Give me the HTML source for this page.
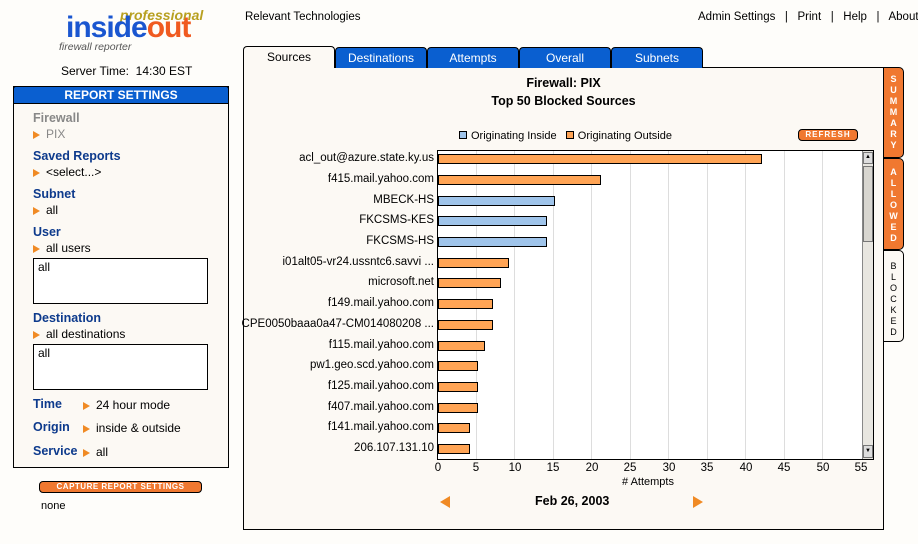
<!DOCTYPE html>
<html><head><meta charset="utf-8"><style>
*{margin:0;padding:0;box-sizing:border-box}
body{width:918px;height:544px;background:#fefdfa;font-family:"Liberation Sans",sans-serif;font-size:12px;color:#000;position:relative;overflow:hidden}
.a{position:absolute;white-space:nowrap}
.lbl{font-weight:bold;color:#0d3a8c;font-size:12.5px}
.tri{display:inline-block;width:0;height:0;border-top:4px solid transparent;border-bottom:4px solid transparent;border-left:7px solid #f08a24;margin-right:6px;vertical-align:-1px}
.tab{position:absolute;top:47px;height:21px;background:#0a5fd0;color:#fff;border:1px solid #000;border-bottom:none;border-radius:4px 4px 0 0;text-align:center;line-height:20px;font-size:12px}
.rt{position:absolute;left:883px;width:21px;background:#f07830;color:#fff;border:1px solid #000;border-radius:0 5px 5px 0;font-size:9px;text-align:center;line-height:11px;padding-top:6px;font-weight:bold}
.tick{position:absolute;top:462px;width:20px;margin-left:-10px;text-align:center;font-size:11.5px}
.grid{position:absolute;top:151px;width:1px;height:308px;background:#ddd}
.bar{position:absolute;left:438px;height:10px;border:1px solid #000}
.o{background:#ffa455}.b{background:#9fc4ea}
.rl{position:absolute;right:484px;font-size:11.5px;text-align:right;white-space:nowrap}
</style></head><body>
<div class="a" style="left:120px;top:7px;font-style:italic;font-weight:bold;color:#b8a020;font-size:14px">professional</div>
<div class="a" style="left:66px;top:11px;font-size:30px;font-weight:bold;letter-spacing:-1px;color:#1a56d0">inside<span style="color:#f05a20">out</span></div>
<div class="a" style="left:59px;top:41px;font-style:italic;color:#555;font-size:10.5px">firewall reporter</div>
<div class="a" style="left:61px;top:64px;font-size:12px">Server Time:&nbsp; 14:30 EST</div>
<div class="a" style="left:13px;top:86px;width:216px;height:382px;border:1px solid #000;background:#fcf9f4"></div>
<div class="a" style="left:13px;top:86px;width:216px;height:18px;background:#0a5fd0;border:1px solid #000;color:#fff;font-weight:bold;text-align:center;line-height:16px;font-size:12px;border-radius:3px 3px 0 0">REPORT SETTINGS</div>
<div class="a lbl" style="left:33px;top:111px;color:#888">Firewall</div>
<div class="a" style="left:33px;top:127px;color:#888"><span class="tri"></span>PIX</div>
<div class="a lbl" style="left:33px;top:149px">Saved Reports</div>
<div class="a" style="left:33px;top:165px"><span class="tri"></span>&lt;select...&gt;</div>
<div class="a lbl" style="left:33px;top:187px">Subnet</div>
<div class="a" style="left:33px;top:203px"><span class="tri"></span>all</div>
<div class="a lbl" style="left:33px;top:225px">User</div>
<div class="a" style="left:33px;top:241px"><span class="tri"></span>all users</div>
<div class="a" style="left:33px;top:258px;width:175px;height:46px;border:1px solid #000;background:#fff;padding:1px 4px">all</div>
<div class="a lbl" style="left:33px;top:311px">Destination</div>
<div class="a" style="left:33px;top:327px"><span class="tri"></span>all destinations</div>
<div class="a" style="left:33px;top:344px;width:175px;height:46px;border:1px solid #000;background:#fff;padding:1px 4px">all</div>
<div class="a lbl" style="left:33px;top:397px">Time</div>
<div class="a" style="left:83px;top:398px"><span class="tri"></span>24 hour mode</div>
<div class="a lbl" style="left:33px;top:420px">Origin</div>
<div class="a" style="left:83px;top:421px"><span class="tri"></span>inside &amp; outside</div>
<div class="a lbl" style="left:33px;top:444px">Service</div>
<div class="a" style="left:83px;top:445px"><span class="tri"></span>all</div>
<div class="a" style="left:39px;top:481px;width:163px;height:12px;background:#f07830;border:1px solid #000;border-radius:4px;color:#fff;font-size:8px;font-weight:bold;text-align:center;line-height:10px;letter-spacing:0.5px">CAPTURE REPORT SETTINGS</div>
<div class="a" style="left:41px;top:500px;font-size:11px">none</div>
<div class="a" style="left:245px;top:11px;font-size:11.5px">Relevant Technologies</div>
<div class="a" style="left:698px;top:11px;font-size:11.5px">Admin Settings &nbsp;&nbsp;|&nbsp;&nbsp; Print &nbsp;&nbsp;|&nbsp;&nbsp; Help &nbsp;&nbsp;|&nbsp;&nbsp; About</div>
<div class="a" style="left:243px;top:67px;width:641px;height:463px;border:1px solid #000;background:#fcf9f4"></div>
<div class="tab" style="left:243px;width:92px;height:22px;background:#fcf9f4;color:#000;top:46px">Sources</div>
<div class="tab" style="left:335px;width:92px">Destinations</div>
<div class="tab" style="left:427px;width:92px">Attempts</div>
<div class="tab" style="left:519px;width:92px">Overall</div>
<div class="tab" style="left:611px;width:92px">Subnets</div>
<div class="rt" style="top:67px;height:91px">S<br>U<br>M<br>M<br>A<br>R<br>Y</div>
<div class="rt" style="top:158px;height:92px;padding-top:8px">A<br>L<br>L<br>O<br>W<br>E<br>D</div>
<div class="rt" style="top:250px;height:92px;background:#fcf9f4;color:#000;padding-top:10px;font-weight:normal">B<br>L<br>O<br>C<br>K<br>E<br>D</div>
<div class="a" style="left:243px;width:641px;top:76px;text-align:center;font-weight:bold;font-size:12.5px">Firewall: PIX</div>
<div class="a" style="left:243px;width:641px;top:94px;text-align:center;font-weight:bold;font-size:12.5px">Top 50 Blocked Sources</div>
<div class="a" style="left:459px;top:130px;font-size:11px"><span style="display:inline-block;width:8px;height:8px;background:#9fc4ea;border:1px solid #000;margin-right:4px"></span>Originating Inside &nbsp; <span style="display:inline-block;width:8px;height:8px;background:#ffa455;border:1px solid #000;margin-right:4px"></span>Originating Outside</div>
<div class="a" style="left:798px;top:129px;width:60px;height:12px;background:#f07830;border:1px solid #000;border-radius:4px;color:#fff;font-size:8px;font-weight:bold;text-align:center;line-height:10px;letter-spacing:1px">REFRESH</div>
<div class="a" style="left:437px;top:150px;width:437px;height:310px;border:1px solid #000;background:#fff"></div>
<div class="grid" style="left:476px"></div><div class="grid" style="left:514px"></div><div class="grid" style="left:553px"></div><div class="grid" style="left:591px"></div><div class="grid" style="left:630px"></div><div class="grid" style="left:668px"></div><div class="grid" style="left:707px"></div><div class="grid" style="left:745px"></div><div class="grid" style="left:784px"></div><div class="grid" style="left:822px"></div>
<div class="a" style="left:862px;top:151px;width:11px;height:308px;background:#e8e6e0;border-left:1px solid #888"></div>
<div class="a" style="left:863px;top:152px;width:10px;height:12px;background:#ddd;border:1px solid #777;font-size:6px;text-align:center;line-height:9px">▲</div>
<div class="a" style="left:863px;top:166px;width:10px;height:76px;background:#d8d6d0;border:1px solid #777"></div>
<div class="a" style="left:863px;top:445px;width:10px;height:13px;background:#ddd;border:1px solid #777;font-size:6px;text-align:center;line-height:10px">▼</div>
<div class="bar o" style="top:154px;width:324px"></div>
<div class="bar o" style="top:175px;width:163px"></div>
<div class="bar b" style="top:196px;width:117px"></div>
<div class="bar b" style="top:216px;width:109px"></div>
<div class="bar b" style="top:237px;width:109px"></div>
<div class="bar o" style="top:258px;width:71px"></div>
<div class="bar o" style="top:278px;width:63px"></div>
<div class="bar o" style="top:299px;width:55px"></div>
<div class="bar o" style="top:320px;width:55px"></div>
<div class="bar o" style="top:341px;width:47px"></div>
<div class="bar o" style="top:361px;width:40px"></div>
<div class="bar o" style="top:382px;width:40px"></div>
<div class="bar o" style="top:403px;width:40px"></div>
<div class="bar o" style="top:423px;width:32px"></div>
<div class="bar o" style="top:444px;width:32px"></div>
<div class="rl" style="top:152px">acl_out@azure.state.ky.us</div>
<div class="rl" style="top:173px">f415.mail.yahoo.com</div>
<div class="rl" style="top:194px">MBECK-HS</div>
<div class="rl" style="top:214px">FKCSMS-KES</div>
<div class="rl" style="top:235px">FKCSMS-HS</div>
<div class="rl" style="top:256px">i01alt05-vr24.ussntc6.savvi ...</div>
<div class="rl" style="top:276px">microsoft.net</div>
<div class="rl" style="top:297px">f149.mail.yahoo.com</div>
<div class="rl" style="top:318px">CPE0050baaa0a47-CM014080208 ...</div>
<div class="rl" style="top:339px">f115.mail.yahoo.com</div>
<div class="rl" style="top:359px">pw1.geo.scd.yahoo.com</div>
<div class="rl" style="top:380px">f125.mail.yahoo.com</div>
<div class="rl" style="top:401px">f407.mail.yahoo.com</div>
<div class="rl" style="top:421px">f141.mail.yahoo.com</div>
<div class="rl" style="top:442px">206.107.131.10</div>
<div class="tick" style="left:438px">0</div><div class="tick" style="left:476px">5</div><div class="tick" style="left:515px">10</div><div class="tick" style="left:553px">15</div><div class="tick" style="left:592px">20</div><div class="tick" style="left:630px">25</div><div class="tick" style="left:669px">30</div><div class="tick" style="left:707px">35</div><div class="tick" style="left:746px">40</div><div class="tick" style="left:784px">45</div><div class="tick" style="left:823px">50</div><div class="tick" style="left:861px">55</div>
<div class="a" style="left:622px;top:476px;font-size:11px"># Attempts</div>
<div class="a" style="left:440px;top:496px;width:0;height:0;border-top:6px solid transparent;border-bottom:6px solid transparent;border-right:10px solid #f08a24"></div>
<div class="a" style="left:693px;top:496px;width:0;height:0;border-top:6px solid transparent;border-bottom:6px solid transparent;border-left:10px solid #f08a24"></div>
<div class="a" style="left:535px;top:494px;font-weight:bold;font-size:12.5px">Feb 26, 2003</div>
</body></html>
